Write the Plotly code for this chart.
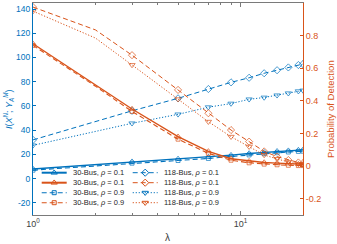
import plotly.graph_objects as go

# ---------------- data ----------------
lam = [1, 2, 3, 5, 7, 9, 11, 13, 15, 17, 19, 20]
show_marker = [1, 0, 1, 1, 1, 1, 1, 1, 1, 1, 1, 1]

mi_30_rho01 = [8.0, 11.5, 14.0, 16.3, 17.8, 19.4, 20.8, 21.8, 22.6, 23.1, 23.6, 23.8]
mi_30_rho09 = [7.0, 10.3, 12.8, 15.0, 16.7, 18.3, 19.6, 20.6, 21.4, 22.0, 22.5, 22.7]
mi_118_rho01 = [32.0, 47.0, 56.0, 66.3, 74.0, 79.5, 83.3, 87.0, 89.5, 91.8, 93.8, 94.6]
mi_118_rho09 = [27.5, 39.0, 45.7, 53.1, 59.0, 62.0, 65.5, 67.0, 68.8, 70.5, 72.2, 72.8]

pd_30_rho01 = [0.75, 0.50, 0.35, 0.18, 0.09, 0.045, 0.03, 0.022, 0.018, 0.015, 0.012, 0.011]
pd_30_rho09 = [0.74, 0.49, 0.335, 0.165, 0.078, 0.036, 0.02, 0.012, 0.008, 0.005, 0.003, 0.003]
pd_118_rho01 = [0.975, 0.835, 0.68, 0.467, 0.324, 0.221, 0.15, 0.09, 0.058, 0.037, 0.022, 0.018]
pd_118_rho09 = [0.95, 0.785, 0.62, 0.41, 0.272, 0.18, 0.119, 0.068, 0.044, 0.025, 0.013, 0.01]

labels = ["30-Bus, <i>ρ</i> = 0.1", "30-Bus, <i>ρ</i> = 0.1", "30-Bus, <i>ρ</i> = 0.9", "30-Bus, <i>ρ</i> = 0.9",
          "118-Bus, <i>ρ</i> = 0.1", "118-Bus, <i>ρ</i> = 0.1", "118-Bus, <i>ρ</i> = 0.9", "118-Bus, <i>ρ</i> = 0.9"]

left_ticks = [-20, 0, 20, 40, 60, 80, 100, 120, 140]
right_ticks = [-0.2, 0, 0.2, 0.4, 0.6, 0.8, 1]
right_ticktext = ["-0.2", "0", "0.2", "0.4", "0.6", "0.8", "1"]
x_major = [1, 10]
x_major_text = ["10<sup>0</sup>", "10<sup>1</sup>"]
x_minor = [2, 3, 4, 5, 6, 7, 8, 9, 20]

left_title = "<i>I</i>(<i>X</i><sup><i>N</i></sup>; <i>Y</i><sub><i>A</i></sub><sup><i>M</i></sup>)"
right_title = "Probability of Detection"
x_title = "λ"

# ---------------- styles ----------------
BLUE = "#0072BD"
ORANGE = "#D95319"
GRAY = "#7a7a7a"
TXT = "#262626"
FONT = "Liberation Sans, Arial, sans-serif"

# (values, y axis, color, dash, symbol, marker size, line width)
series = [
    (mi_30_rho01, "y", BLUE, "solid", "triangle-up-open", 5.5, 1.4),
    (pd_30_rho01, "y2", ORANGE, "solid", "triangle-up-open", 5.5, 1.4),
    (mi_30_rho09, "y", BLUE, "5px,3px", "square-open", 4, 1.1),
    (pd_30_rho09, "y2", ORANGE, "5px,3px", "square-open", 4, 1.1),
    (mi_118_rho01, "y", BLUE, "5px,3px", "diamond-open", 5.5, 1.0),
    (pd_118_rho01, "y2", ORANGE, "5px,3px", "diamond-open", 5.5, 1.0),
    (mi_118_rho09, "y", BLUE, "1.2px,1.8px", "triangle-down-open", 5.5, 1.0),
    (pd_118_rho09, "y2", ORANGE, "1.2px,1.8px", "triangle-down-open", 5.5, 1.0),
]

fig = go.Figure()
for vals, ax, col, dash, sym, msz, lw in series:
    fig.add_trace(go.Scatter(
        x=lam, y=vals, yaxis=ax, mode="lines+markers", showlegend=False,
        line=dict(color=col, width=lw, dash=dash),
        marker=dict(symbol=sym, size=[msz * s for s in show_marker], color=col,
                    line=dict(color=col, width=1)),
    ))

# ---------------- pixel frame overlay (for the compact legend) ----------------
W, H = 337, 244
ML, MR, MT, MB = 33, 34, 3, 29
PW, PH = W - ML - MR, H - MT - MB


def px_to_paper(px, py):
    return (px - ML) / PW, (H - MB - py) / PH


col_line_x0 = [41.7, 132.7]
key_len = 25
text_gap = 4
row_y0 = 172.7
row_dy = 10.0
for i, (vals, ax, col, dash, sym, msz, lw) in enumerate(series):
    c, r = divmod(i, 4)
    y = row_y0 + r * row_dy
    x0 = col_line_x0[c]
    x1 = x0 + key_len
    fig.add_trace(go.Scatter(
        x=[x0, x1], y=[y, y], xaxis="x2", yaxis="y3", mode="lines", showlegend=False,
        hoverinfo="skip", line=dict(color=col, width=lw if dash != "solid" else 2, dash=dash),
    ))
    fig.add_trace(go.Scatter(
        x=[(x0 + x1) / 2], y=[y], xaxis="x2", yaxis="y3", mode="markers", showlegend=False,
        hoverinfo="skip",
        marker=dict(symbol=sym, size=msz, color=col, line=dict(color=col, width=1)),
    ))
    fig.add_annotation(x=x1 + text_gap, y=y, xref="x2", yref="y3", text=labels[i],
                       showarrow=False, xanchor="left", yanchor="middle",
                       font=dict(family=FONT, size=7.5, color=TXT))

# axis titles (paper coordinates)
mid_y = (MT + H - MB) / 2
for (px, py, txt, ang, sz, colr) in [
    (8, mid_y, left_title, -90, 9, BLUE),
    (330, mid_y, right_title, -90, 9.5, ORANGE),
    (167, 238, x_title, 0, 10, "#404040"),
]:
    ax_, ay_ = px_to_paper(px, py)
    fig.add_annotation(x=ax_, y=ay_, xref="paper", yref="paper", text=txt, textangle=ang,
                       showarrow=False, xanchor="center", yanchor="middle",
                       font=dict(family=FONT, size=sz, color=colr))

fig.update_layout(
    template="none",
    width=W, height=H,
    margin=dict(l=ML, r=MR, t=MT, b=MB, pad=0),
    paper_bgcolor="white", plot_bgcolor="white",
    font=dict(family=FONT, color=TXT),
    hovermode=False,
    xaxis=dict(
        type="log", range=[0, 1.30103], automargin=False, showline=True, linecolor=GRAY, linewidth=1,
        mirror="ticks", ticks="inside", ticklen=4, tickcolor=GRAY,
        tickvals=x_major, ticktext=x_major_text, showgrid=False, zeroline=False,
        tickfont=dict(size=9, color="#404040"),
        minor=dict(tickvals=x_minor, ticks="inside", ticklen=2, tickcolor=GRAY, showgrid=False),
    ),
    yaxis=dict(
        range=[-30, 145], automargin=False, showline=True, linecolor=BLUE, linewidth=1,
        ticks="inside", ticklen=3, tickcolor=BLUE, tickvals=left_ticks,
        ticktext=[str(v) for v in left_ticks], showgrid=False, zeroline=False,
        tickfont=dict(size=8.5, color=BLUE),
    ),
    yaxis2=dict(
        range=[-0.3, 1], automargin=False, overlaying="y", side="right", showline=True,
        linecolor=ORANGE, linewidth=1, ticks="inside", ticklen=3, tickcolor=ORANGE,
        tickvals=right_ticks, ticktext=right_ticktext, showgrid=False, zeroline=False,
        tickfont=dict(size=9, color=ORANGE),
    ),
    xaxis2=dict(overlaying="x", range=[ML, W - MR], visible=False, fixedrange=True, automargin=False),
    yaxis3=dict(overlaying="y", range=[H - MB, MT], visible=False, fixedrange=True, automargin=False),
)

fig.write_html("out.html", config={"displayModeBar": False, "staticPlot": True},
               post_script="document.body.style.margin='0';document.body.style.padding='0';")
